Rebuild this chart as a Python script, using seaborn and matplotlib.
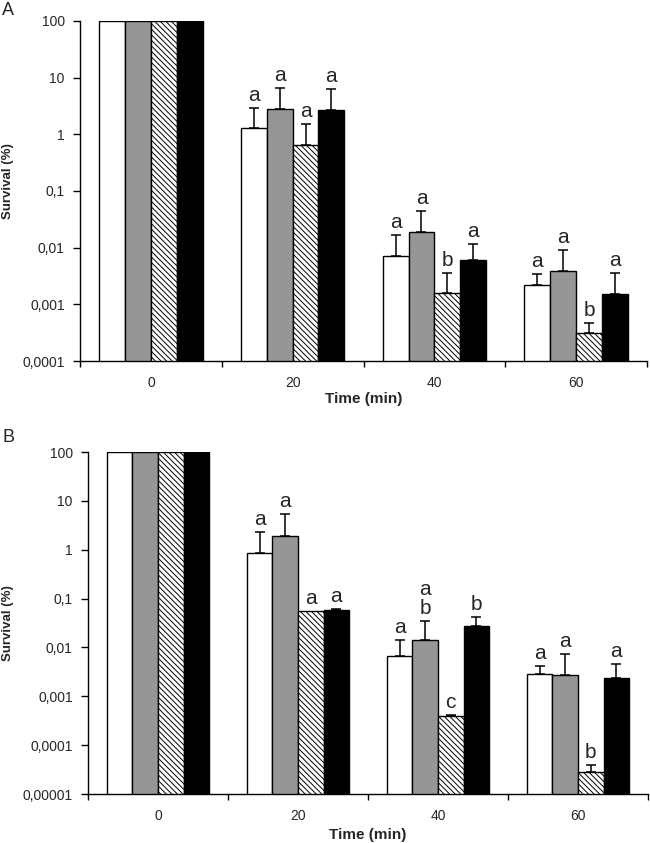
import numpy as np
import pandas as pd
import matplotlib
matplotlib.use("Agg")
import matplotlib.pyplot as plt
import seaborn as sns

# ---------------- data ----------------
times = ["0", "20", "40", "60"]
strains = ["S1", "S2", "S3", "S4"]

# Panel A means
A_white = [100, 1.28, 0.0070, 0.00215]
A_grey = [100, 2.84, 0.0188, 0.00385]
A_hatch = [100, 0.65, 0.00161, 0.00031]
A_black = [100, 2.73, 0.0060, 0.00155]
# Panel A upper errors
A_white_err = [0, 1.68, 0.0096, 0.0013]
A_grey_err = [0, 3.82, 0.0258, 0.0054]
A_hatch_err = [0, 0.89, 0.00203, 0.00016]
A_black_err = [0, 3.57, 0.0058, 0.00209]
# Panel A letters
A_white_lab = ["", "a", "a", "a"]
A_grey_lab = ["", "a", "a", "a"]
A_hatch_lab = ["", "a", "b", "b"]
A_black_lab = ["", "a", "a", "a"]

# Panel B means
B_white = [100, 0.85, 0.0068, 0.00282]
B_grey = [100, 1.95, 0.0141, 0.00269]
B_hatch = [100, 0.056, 0.000394, 0.0000277]
B_black = [100, 0.0586, 0.0276, 0.0024]
# Panel B upper errors
B_white_err = [0, 1.48, 0.0073, 0.0013]
B_grey_err = [0, 3.42, 0.0213, 0.00467]
B_hatch_err = [0, 0.0, 0.000016, 0.0000114]
B_black_err = [0, 0.0028, 0.0146, 0.00226]
# Panel B letters
B_white_lab = ["", "a", "a", "a"]
B_grey_lab = ["", "a", "a\nb", "a"]
B_hatch_lab = ["", "a", "c", "b"]
B_black_lab = ["", "a", "b", "a"]

yticks_A = [1e-4, 1e-3, 1e-2, 1e-1, 1, 10, 100]
ytick_labels_A = ["0,0001", "0,001", "0,01", "0,1", "1", "10", "100"]
yticks_B = [1e-5, 1e-4, 1e-3, 1e-2, 1e-1, 1, 10, 100]
ytick_labels_B = ["0,00001", "0,0001", "0,001", "0,01", "0,1", "1", "10", "100"]

# ---------------- style ----------------
sns.set_style("ticks")
plt.rcParams["font.family"] = ["Liberation Sans", "DejaVu Sans"]
plt.rcParams["hatch.linewidth"] = 0.7
plt.rcParams["hatch.color"] = "black"

face_colors = ["white", "#969696", "white", "black"]
hatches = [None, None, "\\\\\\\\\\\\", None]

fig = plt.figure(figsize=(6.5, 8.43), dpi=100)
W, H = 650, 843


def make_panel(rect, means, errs, labels, yticks, yticklabels, ymin):
    ax = fig.add_axes(rect)
    ax.set_yscale("log")
    df = pd.DataFrame({
        "time": times * 4,
        "strain": [s for s in strains for _ in times],
        "value": [v for m in means for v in m],
    })
    sns.barplot(data=df, x="time", y="value", hue="strain", order=times,
                hue_order=strains, palette=face_colors, errorbar=None,
                width=0.73, edgecolor="black", linewidth=1.0, ax=ax,
                legend=False, saturation=1)
    bar_conts = list(ax.containers)
    for i, cont in enumerate(bar_conts):
        xs = []
        for p in cont.patches:
            p.set_facecolor(face_colors[i])
            p.set_edgecolor("black")
            if hatches[i]:
                p.set_hatch(hatches[i])
            xs.append(p.get_x() + p.get_width() / 2)
        m = np.array(means[i], dtype=float)
        e = np.array(errs[i], dtype=float)
        has = e > 0
        xs = np.array(xs)
        ax.errorbar(xs[has], m[has], yerr=[np.zeros(has.sum()), e[has]],
                    fmt="none", ecolor="black", elinewidth=1.1,
                    capsize=3.3, capthick=1.1, zorder=3)
        for x, mv, ev, lab in zip(xs, m, e, labels[i]):
            if lab:
                ax.annotate(lab, (x, mv + ev), xytext=(0, 5),
                            textcoords="offset points", ha="center",
                            va="baseline", fontsize=15, linespacing=1.0)
    ax.set_ylim(ymin, 100)
    ax.set_xlim(-0.5, len(times) - 0.5)
    ax.set_yticks(yticks)
    ax.set_yticklabels(yticklabels)
    ax.yaxis.set_minor_locator(matplotlib.ticker.NullLocator())
    ax.tick_params(axis="y", which="major", direction="out", length=5,
                   width=1, pad=6, labelsize=10, color="black")
    ax.set_xticks(range(len(times)))
    ax.set_xticklabels(times)
    ax.set_xticks(np.arange(len(times) + 1) - 0.5, minor=True)
    ax.tick_params(axis="x", which="major", length=0, pad=11, labelsize=10)
    ax.tick_params(axis="x", which="minor", direction="out", length=4,
                   width=1, color="black")
    for s in ["top", "right"]:
        ax.spines[s].set_visible(False)
    for s in ["left", "bottom"]:
        ax.spines[s].set_color("black")
        ax.spines[s].set_linewidth(1.0)
    ax.set_xlabel("Time (min)", fontsize=11, fontweight="bold", labelpad=3)
    ax.set_ylabel("Survival (%)", fontsize=9.5, fontweight="bold")
    ax.grid(False)
    return ax


def rect_from_px(l, r, t, b):
    return [l / W, 1 - b / H, (r - l) / W, (b - t) / H]


axA = make_panel(rect_from_px(80, 647, 21, 361),
                 [A_white, A_grey, A_hatch, A_black],
                 [A_white_err, A_grey_err, A_hatch_err, A_black_err],
                 [A_white_lab, A_grey_lab, A_hatch_lab, A_black_lab],
                 yticks_A, ytick_labels_A, 1e-4)
axB = make_panel(rect_from_px(88, 648, 452, 794),
                 [B_white, B_grey, B_hatch, B_black],
                 [B_white_err, B_grey_err, B_hatch_err, B_black_err],
                 [B_white_lab, B_grey_lab, B_hatch_lab, B_black_lab],
                 yticks_B, ytick_labels_B, 1e-5)

# label positions (figure pixels -> axes coords)
axA.yaxis.set_label_coords((8 - 80) / (647 - 80), 0.53)
axB.yaxis.set_label_coords((8 - 88) / (648 - 88), 0.5)
axA.xaxis.set_label_coords(0.5, -(399 - 361) / (361 - 21))
axB.xaxis.set_label_coords(0.5, -(835 - 794) / (794 - 452))
axA.xaxis.label.set_va("center")
axB.xaxis.label.set_va("center")
axA.yaxis.label.set_va("center")
axB.yaxis.label.set_va("center")

fig.text(2 / W, 1 - 15 / H, "A", fontsize=13, va="baseline", ha="left")
fig.text(3 / W, 1 - 442 / H, "B", fontsize=13, va="baseline", ha="left")

fig.savefig("out.png", dpi=100)
